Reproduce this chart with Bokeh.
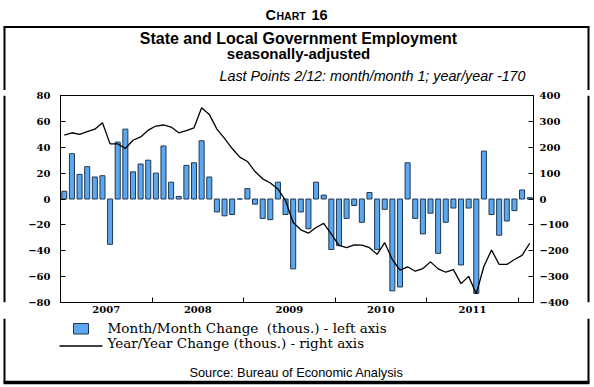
from bokeh.plotting import figure
from bokeh.layouts import column, row
from bokeh.models import (Range1d, LinearAxis, FixedTicker, Label, ColumnDataSource)
from bokeh.embed import file_html
from bokeh.resources import INLINE

# ---------------- data ----------------
months = [f"{y}-{m:02d}" for y in range(2007, 2013) for m in range(1, 13)][:62]
mm_change = [6, 35, 19, 25, 17, 18, -35, 44, 54, 21, 27, 30,
             20, 41, 13, 2, 26, 28, 45, 17, -10, -13, -12, 0,
             8, -4, -15, -16, 13, -12, -54, -10, -23, 13, 3, -39,
             -36, -15, -5, -18, 5, -39, -8, -71, -68, 28, -15, -27,
             -11, -42, -18, -7, -51, -7, -73, 37, -12, -28, -17, -9,
             7, 1]
yy_change = [247, 256, 250, 260, 270, 295, 213, 213, 195, 227, 240, 266,
             282, 286, 278, 256, 264, 275, 353, 327, 270, 234, 195, 162,
             145, 106, 78, 62, 39, -6, -91, -119, -132, -110, -94, -136,
             -179, -188, -177, -178, -188, -214, -169, -234, -275, -262, -279, -269,
             -243, -270, -283, -273, -327, -299, -366, -260, -197, -253, -253, -234,
             -218, -171]
year_labels = ["2007", "2008", "2009", "2010", "2011"]
left_ticks = [-80, -60, -40, -20, 0, 20, 40, 60, 80]
right_ticks = [-400, -300, -200, -100, 0, 100, 200, 300, 400]

BAR_FILL = "#5BA8EE"
BAR_LINE = "#1F3652"
W = 594
BOX_L, BOX_R, BOX_T, BOX_B = 4, 588, 26.5, 382   # outer frame lines (page px)


def panel(x0, x1, y0, y1):
    """A plain figure whose frame is its whole canvas, addressed in page pixels."""
    f = figure(width=x1 - x0, height=y1 - y0, output_backend="svg",
               toolbar_location=None,
               x_range=Range1d(x0, x1), y_range=Range1d(y1, y0),
               min_border_left=0, min_border_right=0, min_border_top=0,
               min_border_bottom=0, x_axis_location=None, y_axis_location=None,
               title=None)
    f.grid.visible = False
    f.outline_line_color = None
    f.background_fill_color = "white"
    f.border_fill_color = "white"
    return f


def box_sides(f, y0, y1):
    f.segment(x0=[BOX_L, BOX_R], y0=[y0, y0], x1=[BOX_L, BOX_R], y1=[y1, y1],
              line_color="black", line_width=2)


def lab(text, X, Y, size, style="normal", font="Liberation Sans",
        align="center", baseline="middle"):
    return Label(x=X, y=Y, text=text, text_font=font, text_font_size=f"{size}px",
                 text_font_style=style, text_align=align, text_baseline=baseline,
                 text_color="black")


# ---------------- header (outside the box) ----------------
hdrA = panel(0, W, 0, 23)
hdrA.add_layout(lab("C", 265, 14, 14.5, "bold", align="left"))
hdrA.add_layout(lab("HART", 276, 15.5, 10.5, "bold", align="left"))
hdrA.add_layout(lab("16", 311, 14, 14.5, "bold", align="left"))

# ---------------- titles ----------------
hdrB = panel(0, W, 23, 90)
hdrB.segment(x0=[BOX_L - 1], y0=[BOX_T], x1=[BOX_R + 1], y1=[BOX_T],
             line_color="black", line_width=2)
box_sides(hdrB, BOX_T, 90)
hdrB.add_layout(lab("State and Local Government Employment", 298, 38, 16, "bold"))
hdrB.add_layout(lab("seasonally-adjusted", 298, 53, 15, "bold"))
hdrB.add_layout(lab("Last Points 2/12: month/month 1; year/year -170", 525, 75, 14.3,
                    "italic", align="right"))

# ---------------- main chart ----------------
MT, MB = 90, 318                    # page rows covered by the main figure
ML, MR = 6, 586                     # page columns covered by the main figure
FL, FR, FT, FB = 60, 533, 95, 302   # frame edges (page px)

src = ColumnDataSource(dict(x=[i + 0.5 for i in range(len(months))],
                            mm=mm_change, yy=yy_change, month=months))

p = figure(width=MR - ML, height=MB - MT, output_backend="svg", toolbar_location=None,
           x_range=Range1d(0, len(months)), y_range=Range1d(-80, 80),
           min_border_left=FL - ML, min_border_right=MR - FR,
           min_border_top=FT - MT, min_border_bottom=MB - FB,
           x_axis_location=None, y_axis_location=None, title=None)
p.extra_y_ranges = {"right": Range1d(-400, 400)}
p.grid.visible = False
p.outline_line_color = "black"
p.outline_line_width = 1
p.background_fill_color = "white"
p.border_fill_color = "white"


def style_axis(ax):
    ax.axis_line_color = "black"
    ax.major_tick_line_color = "black"
    ax.major_tick_in = 5
    ax.major_tick_out = 0
    ax.minor_tick_line_color = None
    ax.major_label_text_font = "DejaVu Serif"
    ax.major_label_text_font_style = "bold"
    ax.major_label_text_font_size = "10px"
    ax.major_label_text_color = "black"


yl = LinearAxis(ticker=FixedTicker(ticks=left_ticks))
style_axis(yl)
yl.major_label_standoff = 10
p.add_layout(yl, "left")

yr = LinearAxis(y_range_name="right", ticker=FixedTicker(ticks=right_ticks))
style_axis(yr)
yr.major_label_standoff = 6
p.add_layout(yr, "right")

n_years = len(year_labels)
xb = LinearAxis(ticker=FixedTicker(ticks=[12 * k + 6 for k in range(n_years)],
                                   minor_ticks=[12 * (k + 1) for k in range(n_years)]))
style_axis(xb)
xb.major_tick_line_color = None
xb.minor_tick_line_color = "black"
xb.minor_tick_in = 5
xb.minor_tick_out = 0
xb.major_label_standoff = 3
xb.major_label_overrides = {12 * k + 6: year_labels[k] for k in range(n_years)}
p.add_layout(xb, "below")

bars = p.vbar(x="x", top="mm", bottom=0, width=0.66, source=src,
              fill_color=BAR_FILL, line_color=BAR_LINE, line_width=1)
line = p.line(x="x", y="yy", source=src, y_range_name="right",
              line_color="black", line_width=1.3)

stripL = panel(0, ML, MT, MB)
box_sides(stripL, MT, MB)
stripR = panel(MR, W, MT, MB)
box_sides(stripR, MT, MB)

# ---------------- footer: key + source ----------------
ftr = panel(0, W, MB, 387)
box_sides(ftr, MB, BOX_B)
ftr.segment(x0=[BOX_L - 1], y0=[BOX_B], x1=[BOX_R + 1], y1=[BOX_B],
            line_color="black", line_width=3.5)
# key swatches
ftr.quad(left=[73], right=[88], top=[323], bottom=[333.5],
         fill_color=BAR_FILL, line_color=BAR_LINE, line_width=1)
ftr.segment(x0=[59], y0=[345.5], x1=[102], y1=[345.5], line_color="black",
            line_width=1.3)
ftr.add_layout(lab("Month/Month Change\u00a0 (thous.) - left axis", 107, 327.5, 13.5,
                   font="DejaVu Serif", align="left"))
ftr.add_layout(lab("Year/Year Change (thous.) - right axis", 107, 342.5, 13.5,
                   font="DejaVu Serif", align="left"))
ftr.add_layout(lab("Source: Bureau of Economic Analysis", 296, 372, 12.8))

page = column(hdrA, hdrB, row(stripL, p, stripR, spacing=0), ftr, spacing=0)

open("out.html", "w").write(file_html(page, INLINE))
